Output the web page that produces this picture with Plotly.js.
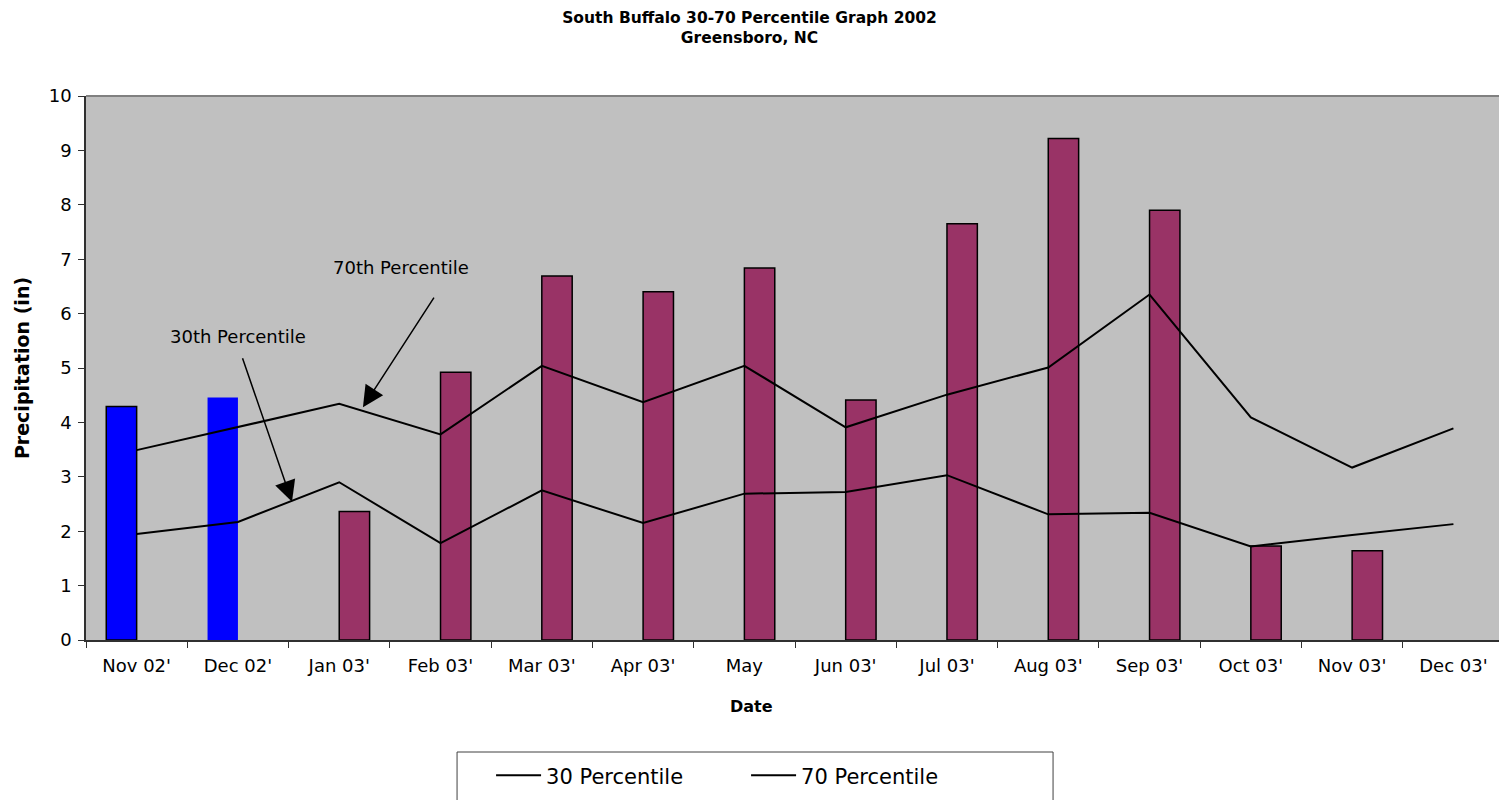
<!DOCTYPE html>
<html>
<head>
<meta charset="utf-8">
<script src="https://cdn.plot.ly/plotly-3.0.1.min.js"></script>
<style>html,body{margin:0;padding:0;overflow:hidden;background:#fff;}</style>
</head>
<body>
<div id="chart" style="width:1499px;height:800px;"></div>
<script>
var categories = ["Nov 02'", "Dec 02'", "Jan 03'", "Feb 03'", "Mar 03'", "Apr 03'", "May", "Jun 03'", "Jul 03'", "Aug 03'", "Sep 03'", "Oct 03'", "Nov 03'", "Dec 03'"];
var precip2002 = [4.29, 4.46, null, null, null, null, null, null, null, null, null, null, null, null];
var precip2003 = [null, null, 2.36, 4.92, 6.69, 6.40, 6.84, 4.41, 7.65, 9.22, 7.90, 1.73, 1.64, null];
var p30 = [1.95, 2.17, 2.90, 1.78, 2.75, 2.15, 2.69, 2.72, 3.03, 2.31, 2.34, 1.72, 1.93, 2.13];
var p70 = [3.49, 3.91, 4.34, 3.78, 5.04, 4.37, 5.04, 3.91, 4.51, 5.01, 6.35, 4.09, 3.17, 3.89];

var FONT = "DejaVu Sans, Arial, sans-serif";

var traces = [
  {
    type: "bar", x: categories, y: precip2002, name: "2002",
    width: 0.3, offset: -0.3, showlegend: false,
    marker: { color: "#0000FF", line: { color: "#000000", width: [1.5, 0, 0, 0, 0, 0, 0, 0, 0, 0, 0, 0, 0, 0] } },
    hoverinfo: "x+y"
  },
  {
    type: "bar", x: categories, y: precip2003, name: "2003",
    width: 0.3, offset: 0, showlegend: false,
    marker: { color: "#993366", line: { color: "#000000", width: 1.5 } },
    hoverinfo: "x+y"
  },
  {
    type: "scatter", mode: "lines", x: categories, y: p30, name: "30 Percentile",
    line: { color: "#000000", width: 2 }
  },
  {
    type: "scatter", mode: "lines", x: categories, y: p70, name: "70 Percentile",
    line: { color: "#000000", width: 2 }
  }
];

var layout = {
  width: 1499, height: 800,
  margin: { l: 86, r: 0, t: 96, b: 160 },
  paper_bgcolor: "#ffffff",
  plot_bgcolor: "#C0C0C0",
  font: { family: FONT, color: "#000000", size: 18 },
  title: {
    text: "<b>South Buffalo 30-70 Percentile Graph 2002<br>Greensboro, NC</b>",
    font: { family: FONT, size: 15.5, color: "#000000" },
    x: 0.5, xref: "container", xanchor: "center",
    y: 0.971, yref: "container", yanchor: "top"
  },
  barmode: "overlay",
  xaxis: {
    type: "category",
    range: [-0.5, 13.45],
    showgrid: false, zeroline: false,
    showline: true, linecolor: "#303030", linewidth: 1.5,
    ticks: "outside", ticklen: 6, tickcolor: "#303030", tickson: "boundaries",
    tickfont: { family: FONT, size: 18, color: "#000000" },
    ticklabelstandoff: 9,
    fixedrange: true
  },
  yaxis: {
    range: [0, 10], dtick: 1,
    showgrid: false, zeroline: false,
    showline: true, linecolor: "#303030", linewidth: 1.5,
    ticks: "outside", ticklen: 6, tickcolor: "#303030",
    tickfont: { family: FONT, size: 18, color: "#000000" },
    ticklabelstandoff: 3,
    title: { text: "<b>Precipitation (in)</b>", font: { family: FONT, size: 19, color: "#000000" }, standoff: 14 },
    fixedrange: true
  },
  shapes: [
    { type: "line", xref: "paper", yref: "paper", x0: 0, x1: 1, y0: 1, y1: 1, line: { color: "#808080", width: 2 } },
    { type: "rect", xref: "paper", yref: "paper", x0: 0.2626, x1: 0.6844, y0: -0.2059, y1: -0.31,
      fillcolor: "#ffffff", line: { color: "#404040", width: 1 }, layer: "above" }
  ],
  annotations: [
    { xref: "paper", yref: "paper", x: 0.471, y: -0.123, text: "<b>Date</b>", showarrow: false,
      font: { family: FONT, size: 16, color: "#000000" }, xanchor: "center", yanchor: "middle" },
    { x: 2.61, y: 6.84, text: "70th Percentile", showarrow: false, font: { family: FONT, size: 18, color: "#000000" } },
    { x: 1.0, y: 5.58, text: "30th Percentile", showarrow: false, font: { family: FONT, size: 18, color: "#000000" } },
    { x: 2.234, y: 4.28, text: "", showarrow: true, ax: 72, ay: -111, arrowhead: 2, arrowsize: 2.8, arrowwidth: 1.5, arrowcolor: "#000000", standoff: 0 },
    { x: 1.534, y: 2.54, text: "", showarrow: true, ax: -50, ay: -145, arrowhead: 2, arrowsize: 2.8, arrowwidth: 1.5, arrowcolor: "#000000", standoff: 0 }
  ],
  showlegend: true,
  legend: {
    orientation: "h",
    xref: "container", yref: "container",
    x: 0.3276, xanchor: "left",
    y: 0.056, yanchor: "top",
    bgcolor: "rgba(0,0,0,0)", borderwidth: 0,
    font: { family: FONT, size: 21, color: "#000000" },
    entrywidth: 195, entrywidthmode: "pixels",
    itemwidth: 45
  },
  hovermode: "closest"
};

Plotly.newPlot("chart", traces, layout, { displayModeBar: false });
</script>
</body>
</html>
